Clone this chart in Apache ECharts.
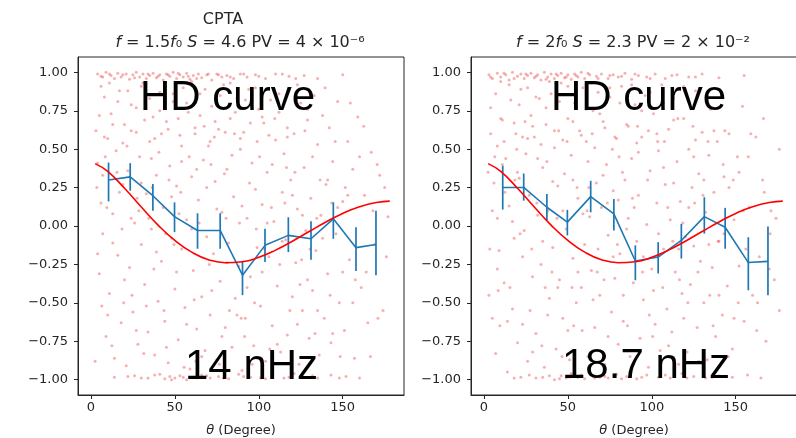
<!DOCTYPE html>
<html><head><meta charset="utf-8">
<script src="https://cdn.jsdelivr.net/npm/echarts@6/dist/echarts.min.js"></script>
<style>html,body{margin:0;padding:0;background:#fff}#c{width:796px;height:438px}</style>
</head><body><div id="c"></div>
<script>
// ---- data ----
const xTicks = [0, 50, 100, 150];
const yTicks = [-1, -0.75, -0.5, -0.25, 0, 0.25, 0.5, 0.75, 1];

// HD curve
const hdTheta = [2.5, 10, 20, 30, 40, 50, 60, 70, 80, 90, 100, 110, 120, 130, 140, 150, 160, 170, 178];
const hdValue = [0.406, 0.355, 0.246, 0.124, 0.006, -0.094, -0.170, -0.219, -0.239, -0.233, -0.204, -0.157, -0.099, -0.036, 0.026, 0.082, 0.125, 0.153, 0.162];

// Binned points, left panel (14 nHz)
const binThetaL = [10.5, 23.4, 36.9, 49.8, 63.5, 77.0, 90.3, 103.7, 117.6, 131.1, 144.4, 157.9, 169.8];
const binMeanL  = [0.299, 0.320, 0.197, 0.061, -0.029, -0.029, -0.320, -0.126, -0.061, -0.083, 0.047, -0.141, -0.120];
const binHiL    = [0.413, 0.409, 0.273, 0.154, 0.083, 0.083, -0.228, -0.018, 0.057, 0.031, 0.154, -0.008, 0.100];
const binLoL    = [0.160, 0.230, 0.100, -0.040, -0.148, -0.148, -0.450, -0.234, -0.170, -0.219, -0.083, -0.293, -0.320];

// Binned points, right panel (18.7 nHz)
const binThetaR = [11.2, 23.7, 37.5, 49.7, 63.6, 77.4, 90.2, 103.8, 117.6, 131.3, 143.7, 157.5, 169.2];
const binMeanR  = [0.251, 0.251, 0.122, 0.025, 0.191, 0.079, -0.228, -0.202, -0.094, 0.061, -0.008, -0.238, -0.230];
const binHiR    = [0.392, 0.342, 0.208, 0.105, 0.294, 0.176, -0.126, -0.105, 0.014, 0.187, 0.118, -0.073, -0.003];
const binLoR    = [0.107, 0.165, 0.036, -0.061, 0.089, -0.029, -0.353, -0.309, -0.212, -0.050, -0.148, -0.418, -0.450];

// Pulsar-pair correlations (background cloud), left panel
const pairsL = [
[4,0.99],[7,0.97],[9,1.0],[12,0.98],[14,0.96],[16,0.995],[18,0.97],[21,0.99],[23,0.955],[25,0.985],[27,1.0],[29,0.97],[31,0.99],[33,0.96],[35,0.98],[37,0.995],[39,0.965],[41,0.985],[43,0.95],[45,0.99],[47,0.975],[49,1.0],[51,0.96],[53,0.985],[55,0.97],[57,0.995],[59,0.955],[61,0.98],[64,0.99],[66,0.965],[69,0.985],[72,0.95],[75,0.99],[78,0.97],[81,0.98],[85,0.96],[89,0.99],[93,0.97],[98,0.985],[104,0.96],[110,0.99],[118,0.975],[127,0.98],[135,0.96],[150,0.985],
[6,0.975],[11,0.99],[19,0.985],[26,0.965],[34,0.99],[40,0.975],[46,0.985],[52,0.995],[58,0.975],[63,0.96],[70,0.99],[76,0.985],[83,0.97],[91,0.99],[100,0.975],[114,0.99],[122,0.96],
[22,-0.98],[30,-0.99],[38,-0.97],[44,-0.995],[47,-0.98],[50,-0.99],[53,-0.975],[57,-1.0],[61,-0.985],[66,-0.97],[71,-0.99],[76,-0.98],[82,-0.995],[88,-0.965],[95,-0.985],[101,-0.99],[108,-0.975],[115,-0.99],[121,-0.96],[128,-0.985],[135,-0.99],[143,-0.97],[152,-0.98],[160,-0.99],[14,-0.985],
[26,-0.975],[34,-0.99],[41,-0.965],[48,-1.0],[55,-0.985],[63,-0.99],[69,-0.975],[79,-0.99],[91,-0.98],[104,-0.995],[118,-0.985],[132,-0.975],[148,-0.99],
[5,0.72],[8,0.58],[11,0.93],[13,0.66],[16,0.81],[19,0.54],[22,0.88],[24,0.62],[27,0.77],[30,0.91],[32,0.69],[35,0.83],[38,0.57],[41,0.75],[44,0.92],[46,0.63],[49,0.86],[52,0.7],[54,0.52],[57,0.8],[60,0.94],[62,0.6],[65,0.72],[68,0.89],[71,0.55],[74,0.68],[77,0.85],[80,0.61],[83,0.93],[86,0.74],[89,0.57],[92,0.82],[95,0.67],[98,0.9],[102,0.71],[106,0.59],[112,0.86],[117,0.64],[123,0.92],[129,0.76],
[3,0.62],[5,-0.31],[6,0.15],[8,0.84],[9,-0.72],[4,0.41],[7,-0.05],[10,0.57],[2.5,-0.88],[6,0.91],
[11,-0.44],[12,0.73],[13,0.08],[14,-0.86],[15,0.49],[16,-0.19],[17,0.88],[18,-0.63],[19,0.27],[20,0.66],
[21,-0.91],[22,0.36],[23,-0.27],[24,0.79],[25,-0.56],[26,0.02],[27,0.61],[28,-0.77],[29,0.45],[30,-0.12],
[31,0.93],[32,-0.38],[33,0.21],[34,-0.69],[35,0.55],[36,-0.02],[37,0.71],[38,-0.84],[39,0.33],[40,-0.49],
[41,0.87],[42,-0.23],[43,0.12],[44,-0.62],[45,0.68],[46,-0.89],[47,0.39],[48,-0.08],[49,0.81],[50,-0.41],
[51,0.26],[52,-0.74],[53,0.59],[54,-0.15],[55,0.9],[56,-0.53],[57,0.04],[58,0.74],[59,-0.93],[60,0.32],
[61,-0.29],[62,0.64],[63,-0.67],[64,0.17],[65,0.86],[66,-0.46],[67,0.43],[68,-0.81],[69,-0.07],[70,0.52],
[71,-0.58],[72,0.78],[73,-0.18],[74,0.29],[75,-0.87],[76,0.63],[77,-0.36],[78,0.09],[79,0.92],[80,-0.66],
[81,0.37],[82,-0.11],[83,0.7],[84,-0.79],[85,0.19],[86,-0.47],[87,0.83],[88,-0.26],[89,0.5],[90,-0.94],
[91,0.61],[92,-0.6],[93,0.05],[94,0.89],[95,-0.33],[96,0.41],[97,-0.78],[98,0.24],[99,-0.14],[100,0.76],
[101,-0.52],[102,0.14],[103,0.67],[104,-0.88],[105,0.35],[106,-0.2],[107,0.82],[108,-0.65],[109,0.03],[110,0.56],
[111,-0.39],[112,0.74],[113,-0.82],[114,0.22],[115,0.47],[116,-0.09],[117,-0.71],[118,0.88],[119,0.3],[120,-0.46],
[121,0.6],[122,-0.24],[123,0.11],[124,-0.9],[125,0.8],[126,-0.55],[127,0.38],[128,-0.03],[129,0.69],[130,-0.73],
[131,0.18],[132,-0.42],[133,0.85],[134,-0.16],[135,0.53],[136,-0.84],[137,0.07],[138,0.72],[139,-0.6],[140,0.27],
[141,-0.31],[142,0.64],[143,-0.76],[144,0.42],[146,-0.05],[147,0.81],[148,-0.5],[150,0.16],
[151,-0.68],[153,0.55],[154,-0.22],[156,0.37],[157,-0.86],[159,0.71],
[161,-0.4],[163,0.2],[165,-0.63],[167,0.48],[169,-0.12],
[172,0.33],[174,-0.55],[177,0.06],
[4,-0.18],[7,0.33],[10,-0.58],[13,-0.11],[17,0.22],[20,-0.35],[24,0.05],[27,-0.68],[30,0.28],[33,-0.52],[36,0.44],[39,-0.17],[42,0.6],[45,-0.79],[48,0.19],[51,-0.3],[54,0.42],[57,-0.64],[60,-0.02],[63,0.37],[66,-0.85],[69,0.25],[72,-0.42],[75,0.11],[78,-0.72],[81,-0.24],[84,0.46],[87,-0.58],[90,0.13],[93,-0.4],[96,-0.9],[99,0.55],[102,-0.3],[105,0.02],[108,0.4],[111,-0.77],[114,-0.1],[117,0.58],[120,0.2],[123,-0.64],[126,0.07],[129,-0.35],[132,0.45],[135,-0.55],[138,-0.08],[141,0.3],[144,-0.7],[147,0.12],[150,-0.3],[153,0.2],[156,-0.5],[160,0.45],[164,-0.3],[168,0.1],[171,-0.6],[175,0.25],
[3.5,0.25],[6.5,-0.52],[9.5,0.12],[12.5,-0.78],[15.5,0.35],[18.5,-0.02],[21.5,0.52],[24.5,-0.45],[27.5,0.18],[31.5,-0.83],[34.5,0.05],[37.5,-0.28],[40.5,0.48],[43.5,-0.55],[46.5,0.3],[49.5,-0.12],[52.5,0.08],[55.5,-0.92],[58.5,0.45],[61.5,-0.48],[64.5,0.02],[67.5,0.65],[70.5,-0.25],[73.5,0.58],[76.5,-0.9],[79.5,0.34],[82.5,-0.55],[85.5,0.6],[88.5,0.02],[91.5,-0.72],[94.5,0.28],[97.5,-0.5],[100.5,0.45],[103.5,-0.15],[106.5,-0.8],[109.5,0.7],[112.5,-0.25],[115.5,0.15],[118.5,-0.55],[121.5,0.35],[124.5,-0.38],[127.5,0.62],[130.5,-0.15],[133.5,-0.7],[136.5,0.3],[139.5,0.9],[142.5,-0.45],[145.5,0.55],[148.5,-0.85],[151.5,0.25],[154.5,0.8],[157.5,-0.35],[162.5,0.65],[166.5,-0.85],[170.5,0.4],[176,-0.2],
[8.5,0.45],[19.5,-0.5],[28.5,0.1],[36.5,0.25],[44.5,-0.05],[53.5,0.22],[62.5,-0.88],[71.5,0.4],[80.5,0.05],[89.5,-0.6],[98.5,-0.02],[107.5,0.12],[116.5,0.38],[125.5,-0.22],[134.5,0.05],[143.5,0.15]
];

// Pulsar-pair correlations (background cloud), right panel
const pairsR = [
[3,0.985],[5,0.96],[8,0.995],[10,0.97],[13,0.985],[15,0.95],[17,1.0],[20,0.975],[22,0.99],[24,0.96],[26,0.98],[28,0.995],[30,0.965],[32,0.985],[34,0.95],[36,1.0],[38,0.97],[40,0.99],[42,0.96],[44,0.98],[46,0.995],[48,0.965],[50,0.985],[52,0.955],[54,0.99],[56,0.97],[58,1.0],[60,0.96],[63,0.985],[67,0.975],[70,0.99],[74,0.96],[77,0.985],[80,0.97],[84,0.995],[88,0.955],[92,0.98],[97,0.97],[102,0.99],[108,0.96],[115,0.985],[122,0.97],[130,0.99],[140,0.965],[155,0.98],
[4,0.97],[12,0.995],[18,0.96],[25,0.99],[31,0.975],[37,0.955],[43,0.99],[49,0.97],[55,0.98],[62,0.995],[68,0.96],[75,0.98],[82,0.975],[90,0.99],[99,0.96],[112,0.98],[126,0.97],
[18,-0.99],[27,-0.97],[35,-0.985],[42,-1.0],[46,-0.975],[49,-0.99],[52,-0.96],[56,-0.985],[60,-0.995],[64,-0.97],[69,-0.985],[74,-0.99],[79,-0.965],[85,-0.98],[91,-0.995],[97,-0.97],[104,-0.985],[111,-0.99],[118,-0.96],[125,-0.98],[132,-0.99],[140,-0.975],[148,-0.985],[157,-0.97],[165,-0.99],
[22,-0.985],[31,-0.99],[39,-0.975],[45,-0.995],[51,-0.985],[58,-0.97],[66,-0.99],[72,-0.98],[82,-0.995],[94,-0.985],[108,-0.97],[121,-0.99],[136,-0.985],
[4,0.6],[7,0.86],[10,0.7],[12,0.55],[15,0.92],[18,0.67],[21,0.79],[23,0.58],[26,0.9],[29,0.65],[31,0.84],[34,0.53],[37,0.77],[39,0.94],[42,0.62],[45,0.81],[47,0.56],[50,0.91],[53,0.68],[55,0.87],[58,0.59],[61,0.76],[64,0.93],[66,0.51],[69,0.73],[72,0.64],[75,0.9],[78,0.58],[81,0.8],[85,0.66],[88,0.92],[91,0.54],[94,0.75],[99,0.87],[103,0.6],[107,0.8],[113,0.69],[119,0.91],[126,0.56],[133,0.8],
[3,-0.45],[4,0.77],[6,0.28],[7,-0.83],[8,0.52],[9,-0.16],[10,0.94],[5,-0.6],[8,0.05],[2.5,0.35],
[11,0.69],[12,-0.37],[13,0.44],[14,-0.95],[15,0.13],[16,0.82],[17,-0.54],[18,-0.08],[19,0.6],[20,-0.76],
[21,0.31],[22,0.89],[23,-0.64],[24,-0.03],[25,0.47],[26,-0.88],[27,0.2],[28,0.72],[29,-0.33],[30,0.58],
[31,-0.7],[32,0.07],[33,0.83],[34,-0.25],[35,0.38],[36,-0.92],[37,0.66],[38,0.1],[39,-0.47],[40,0.86],
[41,-0.14],[42,0.51],[43,-0.8],[44,0.26],[45,-0.35],[46,0.93],[47,-0.6],[48,0.34],[49,-0.02],[50,0.7],
[51,-0.87],[52,0.46],[53,-0.21],[54,0.8],[55,-0.5],[56,0.18],[57,0.62],[58,-0.4],[59,0.9],[60,-0.12],
[61,0.55],[62,-0.85],[63,0.06],[64,-0.29],[65,0.75],[66,-0.66],[67,0.28],[68,0.87],[69,-0.45],[70,0.12],
[71,0.68],[72,-0.9],[73,0.4],[74,-0.06],[75,0.84],[76,-0.56],[77,0.23],[78,-0.34],[79,0.57],[80,-0.77],
[81,-0.18],[82,0.91],[83,-0.62],[84,0.3],[85,-0.02],[86,0.65],[87,-0.85],[88,0.44],[89,-0.37],[90,0.79],
[91,-0.1],[92,0.2],[93,-0.73],[94,0.58],[95,-0.48],[96,0.85],[97,0.01],[98,-0.92],[99,0.36],[100,-0.28],
[101,0.73],[102,-0.64],[103,0.15],[104,0.49],[105,-0.81],[106,0.92],[107,-0.15],[108,0.27],[109,-0.54],[110,0.63],
[111,0.04],[112,-0.69],[113,0.83],[114,-0.3],[115,0.42],[116,-0.9],[117,0.16],[118,-0.44],[119,0.7],[120,-0.07],
[121,-0.82],[122,0.5],[123,-0.38],[124,0.25],[125,-0.13],[126,0.88],[127,-0.66],[128,0.34],[129,-0.23],[130,0.61],
[131,-0.5],[132,0.09],[133,-0.87],[134,0.46],[135,0.76],[136,-0.27],[137,0.22],[138,-0.72],[139,0.55],[140,-0.1],
[141,0.84],[142,-0.58],[143,0.32],[145,-0.39],[146,0.6],[148,-0.8],[149,0.04],
[151,0.45],[152,-0.26],[154,0.78],[155,-0.62],[158,0.12],[160,-0.45],
[162,0.58],[164,-0.2],[166,0.3],[168,-0.75],
[171,0.1],[173,-0.35],[176,0.5],
[5,0.1],[8,-0.28],[11,0.4],[14,-0.62],[17,0.03],[20,0.35],[23,-0.2],[26,0.57],[29,-0.82],[32,0.44],[35,-0.1],[38,-0.58],[41,0.29],[44,-0.4],[47,0.1],[50,-0.68],[53,0.3],[56,-0.3],[59,0.08],[62,0.42],[65,-0.48],[68,-0.15],[71,0.33],[74,-0.72],[77,-0.2],[80,0.17],[83,-0.45],[86,0.05],[89,-0.9],[92,0.48],[95,-0.2],[98,0.62],[101,-0.42],[104,-0.05],[107,0.38],[110,-0.78],[113,0.28],[116,-0.15],[119,-0.6],[122,0.12],[125,0.45],[128,-0.88],[131,0.3],[134,-0.12],[137,0.62],[140,-0.45],[143,-0.05],[146,0.25],[149,-0.6],[152,0.35],[156,-0.15],[159,0.6],[163,-0.5],[167,0.22],[170,-0.28],[174,0.05],
[3.5,-0.15],[6.5,0.45],[9.5,-0.65],[12.5,0.22],[15.5,-0.4],[18.5,0.3],[21.5,-0.05],[24.5,0.68],[27.5,-0.55],[31.5,0.15],[34.5,-0.78],[37.5,0.42],[40.5,-0.3],[43.5,0.05],[46.5,-0.85],[49.5,0.55],[52.5,-0.4],[55.5,0.25],[58.5,-0.68],[61.5,0.1],[64.5,0.6],[67.5,-0.3],[70.5,-0.82],[73.5,0.15],[76.5,0.5],[79.5,-0.12],[82.5,0.35],[85.5,-0.65],[88.5,0.18],[91.5,0.65],[94.5,-0.3],[97.5,0.3],[100.5,-0.72],[103.5,0.55],[106.5,-0.4],[109.5,0.12],[112.5,-0.1],[115.5,0.7],[118.5,0.02],[121.5,-0.5],[124.5,0.65],[127.5,-0.3],[130.5,0.2],[133.5,0.55],[136.5,-0.65],[139.5,-0.1],[142.5,0.4],[145.5,-0.85],[148.5,0.3],[151.5,-0.5],[154.5,0.1],[157.5,0.45],[162.5,-0.68],[166.5,0.7],[170.5,-0.05],[176,-0.55],
[8.5,-0.42],[19.5,0.5],[28.5,-0.15],[36.5,-0.4],[44.5,0.62],[53.5,-0.65],[62.5,0.25],[71.5,-0.35],[80.5,0.45],[89.5,0.12],[98.5,-0.58],[107.5,0.55],[116.5,-0.35],[125.5,0.15],[134.5,-0.45],[143.5,0.62]
];

// ---- chart ----
const TXT = '#262626';
const FONT = "'DejaVu Sans', sans-serif";
const BIG = "42px 'Liberation Sans', Arial, sans-serif";
const fmtY = v => (v < 0 ? '\u2212' : '') + Math.abs(v).toFixed(2);
const zip = (a, b) => a.map((v, i) => [v, b[i]]);

function xAx(gi) {
  return {
    gridIndex: gi, type: 'value', min: -7.7, max: 186.5,
    axisLine: { show: true, onZero: false, lineStyle: { color: TXT, width: 1 } },
    axisTick: { show: true, length: 4, customValues: xTicks, lineStyle: { color: TXT } },
    axisLabel: { customValues: xTicks, fontSize: 13, color: TXT, fontFamily: FONT, margin: 6 },
    splitLine: { show: false },
    name: '{it|θ} (Degree)', nameLocation: 'middle', nameGap: 29,
    nameTextStyle: { fontSize: 13, color: TXT, fontFamily: FONT,
      rich: { it: { fontStyle: 'italic', fontSize: 13, color: TXT, fontFamily: FONT } } }
  };
}
function yAx(gi) {
  return {
    gridIndex: gi, type: 'value', min: -1.1, max: 1.1,
    axisLine: { show: true, onZero: false, lineStyle: { color: TXT, width: 1 } },
    axisTick: { show: true, length: 4, customValues: yTicks, lineStyle: { color: TXT } },
    axisLabel: { customValues: yTicks, fontSize: 13, color: TXT, fontFamily: FONT, margin: 10, formatter: fmtY },
    splitLine: { show: false }
  };
}
function errBars(gi, th, lo, hi) {
  return {
    type: 'custom', xAxisIndex: gi, yAxisIndex: gi, z: 4, silent: true,
    data: th.map((t, i) => [t, lo[i], hi[i]]),
    renderItem: (params, api) => {
      const a = api.coord([api.value(0), api.value(1)]);
      const b = api.coord([api.value(0), api.value(2)]);
      return { type: 'line', shape: { x1: a[0], y1: a[1], x2: b[0], y2: b[1] },
        style: { stroke: '#1f77b4', lineWidth: 1.7 } };
    }
  };
}
function panel(gi, pairs, th, mean, lo, hi) {
  return [
    { type: 'scatter', xAxisIndex: gi, yAxisIndex: gi, data: pairs, symbolSize: 3, silent: true, z: 1,
      itemStyle: { color: 'rgba(232,50,50,0.48)' } },
    errBars(gi, th, lo, hi),
    { type: 'line', xAxisIndex: gi, yAxisIndex: gi, data: zip(th, mean), showSymbol: false, z: 4, silent: true,
      lineStyle: { color: '#1f77b4', width: 1.6 } },
    { type: 'line', xAxisIndex: gi, yAxisIndex: gi, data: zip(hdTheta, hdValue), smooth: true, showSymbol: false, z: 5, silent: true,
      lineStyle: { color: '#ff0000', width: 1.6 } }
  ];
}

const richT = { i: { fontStyle: 'italic', fontSize: 16, fontFamily: FONT, fill: TXT } };
function label(x, y, text, font, kind) {
  return { type: 'text', x: x, y: y, silent: true, z: 20,
    style: { text: text, font: font, fill: kind === 'big' ? '#000' : TXT,
      align: kind === 'big' ? 'left' : 'center', verticalAlign: 'middle', rich: richT } };
}

const chart = echarts.init(document.getElementById('c'), null, { renderer: 'canvas' });
chart.setOption({
  animation: false,
  backgroundColor: '#fff',
  grid: [
    { left: 78, top: 57, width: 326, height: 338, show: true, borderColor: TXT, borderWidth: 1, backgroundColor: 'transparent', containLabel: false, outerBoundsMode: 'none' },
    { left: 471, top: 57, width: 326, height: 338, show: true, borderColor: TXT, borderWidth: 1, backgroundColor: 'transparent', containLabel: false, outerBoundsMode: 'none' }
  ],
  xAxis: [xAx(0), xAx(1)],
  yAxis: [yAx(0), yAx(1)],
  series: [].concat(
    panel(0, pairsL, binThetaL, binMeanL, binLoL, binHiL),
    panel(1, pairsR, binThetaR, binMeanR, binLoR, binHiR)
  ),
  graphic: [
    label(223, 20, 'CPTA', '16px ' + FONT, 'center'),
    label(240, 43, '{i|f} = 1.5{i|f}\u2080 {i|S} = 4.6 PV = 4 \u00d7 10\u207b\u2076', '16px ' + FONT, 'center'),
    label(633, 43, '{i|f} = 2{i|f}\u2080 {i|S} = 2.3 PV = 2 \u00d7 10\u207b\u00b2', '16px ' + FONT, 'center'),
    label(140, 98, 'HD curve', BIG, 'big'),
    label(551, 98, 'HD curve', BIG, 'big'),
    label(185, 367, '14 nHz', BIG, 'big'),
    label(562, 366, '18.7 nHz', BIG, 'big')
  ]
});
</script>
</body></html>
